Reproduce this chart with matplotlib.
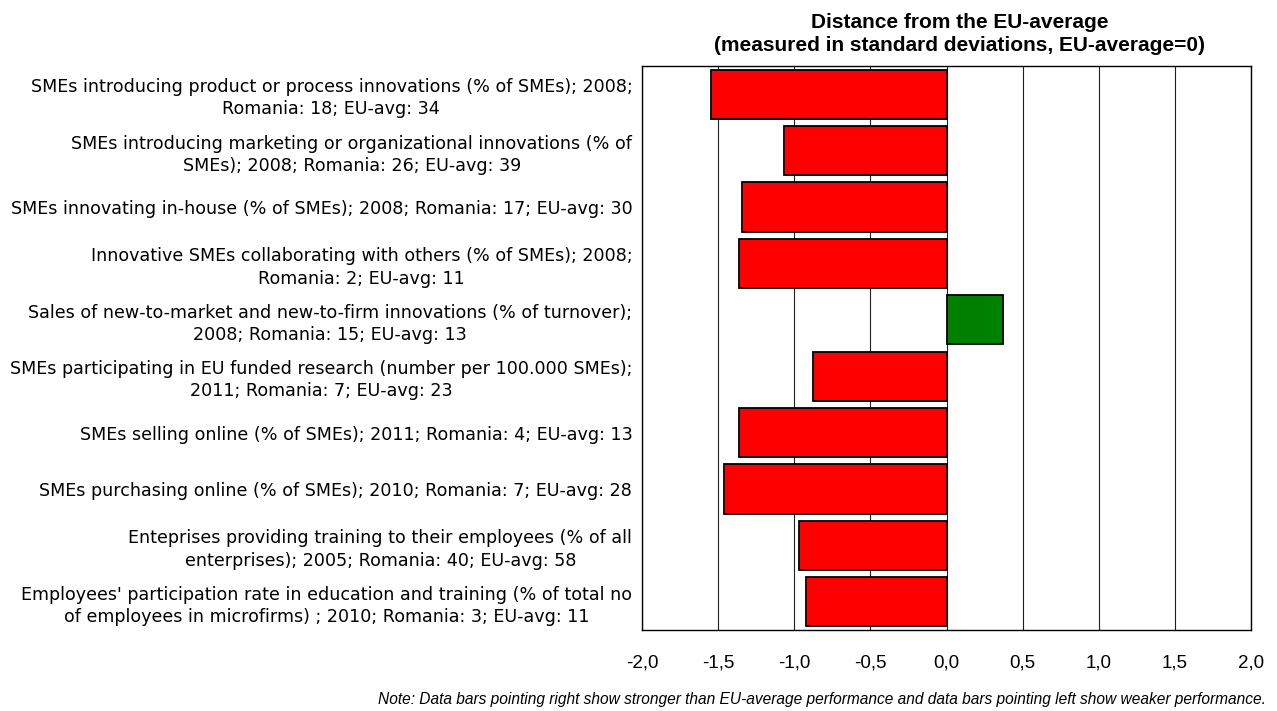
import matplotlib.pyplot as plt
from matplotlib.ticker import FuncFormatter

# indicator labels (top to bottom)
labels = [
    "SMEs introducing product or process innovations (% of SMEs); 2008;\nRomania: 18; EU-avg: 34",
    "SMEs introducing marketing or organizational innovations (% of\nSMEs); 2008; Romania: 26; EU-avg: 39",
    "SMEs innovating in-house (% of SMEs); 2008; Romania: 17; EU-avg: 30",
    "Innovative SMEs collaborating with others (% of SMEs); 2008;\nRomania: 2; EU-avg: 11",
    "Sales of new-to-market and new-to-firm innovations (% of turnover);\n2008; Romania: 15; EU-avg: 13",
    "SMEs participating in EU funded research (number per 100.000 SMEs);\n2011; Romania: 7; EU-avg: 23",
    "SMEs selling online (% of SMEs); 2011; Romania: 4; EU-avg: 13",
    "SMEs purchasing online (% of SMEs); 2010; Romania: 7; EU-avg: 28",
    "Enteprises providing training to their employees (% of all\nenterprises); 2005; Romania: 40; EU-avg: 58",
    "Employees' participation rate in education and training (% of total no\nof employees in microfirms) ; 2010; Romania: 3; EU-avg: 11",
]
# distance from EU average in standard deviations
distance = [-1.55, -1.07, -1.34, -1.36, 0.37, -0.875, -1.36, -1.46, -0.97, -0.92]

xticks = [-2.0, -1.5, -1.0, -0.5, 0.0, 0.5, 1.0, 1.5, 2.0]

colors = ['#008000' if v > 0 else '#FF0000' for v in distance]

W, H = 1277, 711
fig = plt.figure(figsize=(W / 100, H / 100), dpi=100)
ax = fig.add_axes([642 / W, 1 - 630 / H, (1251 - 642) / W, (630 - 66) / H])

pos = list(range(len(labels)))
ax.barh(pos, distance, height=0.87, color=colors, edgecolor='black', linewidth=1.3, zorder=3)

ax.set_xlim(-2, 2)
ax.set_ylim(len(labels) - 0.5, -0.5)
ax.set_xticks(xticks)
ax.xaxis.set_major_formatter(FuncFormatter(lambda v, p: ('%.1f' % v).replace('.', ',')))
ax.grid(axis='x', color='#202020', linewidth=0.8, zorder=0)

ax.set_yticks(pos)
ax.set_yticklabels(labels, family='DejaVu Sans', fontsize=12.6, linespacing=1.3,
                   ha='right', multialignment='center')
ax.tick_params(axis='y', length=0, pad=7)
ax.tick_params(axis='x', length=0, pad=18, labelsize=13.5)
for t in ax.get_xticklabels():
    t.set_family('Liberation Sans')

for s in ax.spines.values():
    s.set_color('black')
    s.set_linewidth(1.0)

fig.text(960 / W, 1 - 28 / H, "Distance from the EU-average",
         family='Liberation Sans', fontweight='bold', fontsize=15, ha='center', va='baseline')
fig.text(960 / W, 1 - 51 / H, "(measured in standard deviations, EU-average=0)",
         family='Liberation Sans', fontweight='bold', fontsize=15, ha='center', va='baseline')

fig.text(1266 / W, 1 - 704 / H,
         "Note: Data bars pointing right show stronger than EU-average performance and data bars pointing left show weaker performance.",
         family='Liberation Sans', style='italic', fontsize=11.2, ha='right', va='baseline')

plt.savefig('out.png', dpi=100)
